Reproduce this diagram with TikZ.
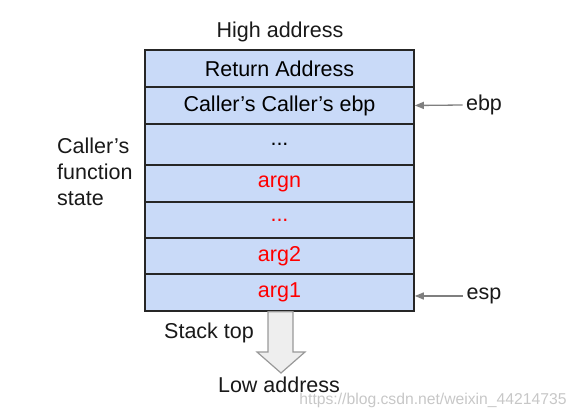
\documentclass[tikz,border=0pt]{standalone}
\usepackage{fontspec}
\setmainfont{Liberation Sans}
\usetikzlibrary{arrows.meta}
\definecolor{cellblue}{HTML}{C9DAF8}
\definecolor{ptrgray}{HTML}{7F7F7F}
\definecolor{blockgray}{HTML}{EEEEEE}
\definecolor{blockedge}{HTML}{999999}
\tikzset{
  cell/.style={draw=black!85, line width=1.6pt, fill=cellblue, minimum width=269pt, inner sep=0pt, font=\fontsize{21.5}{24}\selectfont},
  redtext/.style={text=red},
  lbl/.style={font=\fontsize{21.5}{24}\selectfont, text=black!90},
  ptr/.style={draw=ptrgray, line width=1.3pt, -{Triangle[length=9pt,width=7pt]}},
  mark text/.style={font=\fontsize{15.7}{18}\selectfont, text=black!22}
}
\begin{document}
\begin{tikzpicture}[x=1pt,y=-1pt]
\useasboundingbox (0,0) rectangle (581,419);
\node[cell, minimum height=37pt] (r1) at (279.5,68.5) {Return Address};
\node[cell, minimum height=37pt] (r2) at (279.5,105.5) {Caller’s Caller’s ebp};
\node[cell, minimum height=41pt] (r3) at (279.5,144.5) {...};
\node[cell, minimum height=37pt, redtext] (r4) at (279.5,183.5) {argn};
\node[cell, minimum height=36pt, redtext] (r5) at (279.5,220) {...};
\node[cell, minimum height=36pt, redtext] (r6) at (279.5,256) {arg2};
\node[cell, minimum height=37pt, redtext] (r7) at (279.5,292.5) {arg1};

\node[lbl] (high) at (280,32) {High address};
\node[lbl, anchor=west, align=left, inner sep=0pt, font=\fontsize{21.5}{26}\selectfont] (state) at (57,172) {Caller’s\\function\\state};

\node[lbl] (ebp) at (484,105) {ebp};
\node[lbl] (esp) at (484,296) {esp};
\draw[ptr] (ebp.west) -- (r2.east);
\draw[ptr] (esp.west) -- (r7.east |- esp.west);

\draw[fill=blockgray, draw=blockedge, line width=1.2pt]
  (r7.south -| 268,0) -- (268,352) -- (257,352) -- (281,373) -- (305,352) -- (293,352) -- (r7.south -| 293,0) -- cycle;

\node[lbl] (stacktop) at (209,333) {Stack top};
\node[lbl] (low) at (279,385) {Low address};
\node[mark text] (wm) at (433,400) {https://blog.csdn.net/weixin\_44214735};
\end{tikzpicture}
\end{document}
